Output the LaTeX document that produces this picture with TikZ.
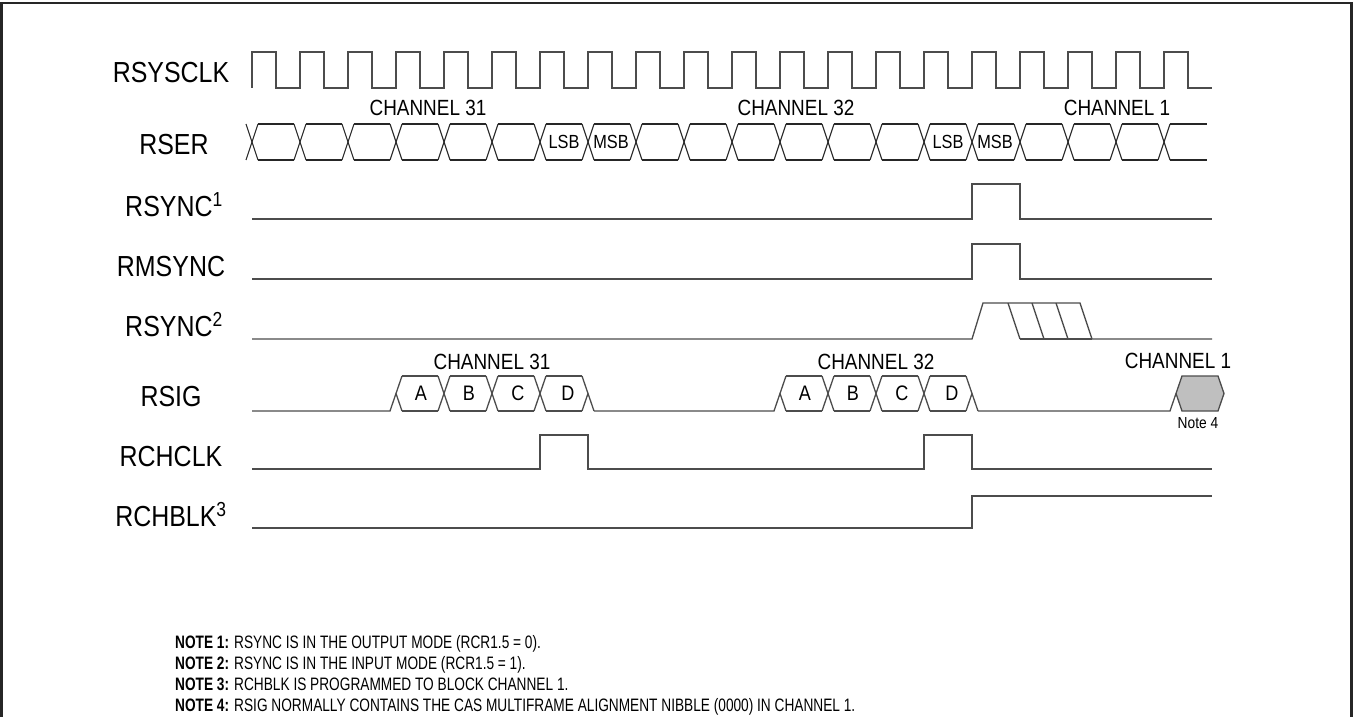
\documentclass[tikz,border=0pt]{standalone}
\usepackage{fontspec}
\setmainfont{Liberation Sans}[FakeStretch=0.86]
\newfontfamily\notefont{Liberation Sans}[FakeStretch=0.76]
\begin{document}
\begin{tikzpicture}[x=1pt,y=-1pt,
  sig/.style={line width=1.3pt, draw=black!70, line join=miter},
  bus/.style={line width=1.1pt, draw=black!85},
  lab/.style={font=\fontsize{29}{32}\selectfont, anchor=base, inner sep=0pt},
  chan/.style={font=\fontsize{22}{26}\selectfont, anchor=base, inner sep=0pt},
  cell/.style={font=\fontsize{19}{22}\selectfont, anchor=base, inner sep=0pt},
  abcd/.style={font=\fontsize{21}{24}\selectfont, anchor=base, inner sep=0pt},
  note/.style={font=\notefont\fontsize{18}{20}\selectfont, anchor=base west, inner sep=0pt}]
\useasboundingbox (0,0) rectangle (1353,717);
% frame
\draw[line width=2.6pt, black!85] (1.5,730) -- (1.5,3) -- (1351.5,3) -- (1351.5,730);

% signal names
\node[lab] (nclk) at (171,83) {RSYSCLK};
\node[lab] (nser) at (174,154) {RSER};
\node[lab] (nsync1) at (174,216) {RSYNC\textsuperscript{1}};
\node[lab] (nmsync) at (171,276) {RMSYNC};
\node[lab] (nsync2) at (174,336) {RSYNC\textsuperscript{2}};
\node[lab] (nsig) at (171,406) {RSIG};
\node[lab] (nchclk) at (171,466) {RCHCLK};
\node[lab] (nchblk) at (171,526) {RCHBLK\textsuperscript{3}};

% RSYSCLK
\draw[sig] (252,88) \foreach \k in {0,...,19} { -- ({252+48*\k},52) -- ({276+48*\k},52) -- ({276+48*\k},88) -- ({300+48*\k},88) };

% RSER
\foreach \k in {0,...,19} {
  \draw[bus] ({246+48*\k},124) -- ({258+48*\k},160);
  \draw[bus] ({246+48*\k},160) -- ({258+48*\k},124);
}
\foreach \k in {0,...,18} {
  \draw[bus] ({258+48*\k},124) -- ({294+48*\k},124);
  \draw[bus] ({258+48*\k},160) -- ({294+48*\k},160);
}
\draw[bus] (1170,124) -- (1207,124);
\draw[bus] (1170,160) -- (1207,160);
\node[chan] (c31) at (428,115) {CHANNEL 31};
\node[chan] (c32) at (796,115) {CHANNEL 32};
\node[chan] (c1) at (1117,115) {CHANNEL 1};
\node[cell] (lsb1) at (564,148) {LSB};
\node[cell] (msb1) at (611,148) {MSB};
\node[cell] (lsb2) at (948,148) {LSB};
\node[cell] (msb2) at (995,148) {MSB};

% RSYNC 1
\draw[sig] (252,219) -- (972,219) -- (972,184) -- (1020,184) -- (1020,219) -- (1212,219);
% RMSYNC
\draw[sig] (252,279) -- (972,279) -- (972,244) -- (1020,244) -- (1020,279) -- (1212,279);
% RSYNC 2
\draw[sig] (252,339) -- (972,339) -- (983,303) -- (1080,303) -- (1092,339) -- (1212,339);
\draw[sig] (1020,339) -- (1092,339);
\draw[sig] (1008,303) -- (1020,339);
\draw[sig] (1032,303) -- (1044,339);
\draw[sig] (1056,303) -- (1068,339);

% RSIG
\draw[sig] (252,411) -- (390,411) -- (402,376);
\draw[sig] (594,411) -- (774,411) -- (786,376);
\draw[sig] (978,411) -- (1170,411) -- (1176,393.5);
\foreach \s in {396,780} {
  \draw[sig] (\s,393.5) -- ({\s+6},411);
  \foreach \j in {1,2,3} {
    \draw[sig] ({\s+48*\j-6},376) -- ({\s+48*\j+6},411);
    \draw[sig] ({\s+48*\j-6},411) -- ({\s+48*\j+6},376);
  }
  \foreach \j in {0,1,2,3} {
    \draw[sig] ({\s+48*\j+6},376) -- ({\s+48*\j+42},376);
    \draw[sig] ({\s+48*\j+6},411) -- ({\s+48*\j+42},411);
  }
  \draw[sig] ({\s+186},376) -- ({\s+198},411);
  \draw[sig] ({\s+186},411) -- ({\s+192},393.5);
}
\node[abcd] (a1) at (421,400) {A};
\node[abcd] (b1) at (469,400) {B};
\node[abcd] (cc1) at (518,400) {C};
\node[abcd] (d1) at (568,400) {D};
\node[abcd] (a2) at (805,400) {A};
\node[abcd] (b2) at (853,400) {B};
\node[abcd] (cc2) at (902,400) {C};
\node[abcd] (d2) at (952,400) {D};
\node[chan] (s31) at (492,369) {CHANNEL 31};
\node[chan] (s32) at (876,369) {CHANNEL 32};
\node[chan] (s1) at (1178,368) {CHANNEL 1};
\draw[sig, fill=black!25] (1176,393.5) -- (1182,376) -- (1218,376) -- (1224,393.5) -- (1218,411) -- (1182,411) -- cycle;
\node[font=\fontsize{16}{18}\selectfont, anchor=base, inner sep=0pt] (n4) at (1198,428) {Note 4};

% RCHCLK
\draw[sig] (252,469) -- (540,469) -- (540,435) -- (588,435) -- (588,469) -- (924,469) -- (924,435) -- (972,435) -- (972,469) -- (1212,469);
% RCHBLK
\draw[sig] (252,528) -- (972,528) -- (972,496) -- (1212,496);

% notes
\node[note] (note1) at (175,648) {\textbf{NOTE 1:} RSYNC IS IN THE OUTPUT MODE (RCR1.5 = 0).};
\node[note] (note2) at (175,669) {\textbf{NOTE 2:} RSYNC IS IN THE INPUT MODE (RCR1.5 = 1).};
\node[note] (note3) at (175,690) {\textbf{NOTE 3:} RCHBLK IS PROGRAMMED TO BLOCK CHANNEL 1.};
\node[note] (note4) at (175,711) {\textbf{NOTE 4:} RSIG NORMALLY CONTAINS THE CAS MULTIFRAME ALIGNMENT NIBBLE (0000) IN CHANNEL 1.};
\end{tikzpicture}
\end{document}
